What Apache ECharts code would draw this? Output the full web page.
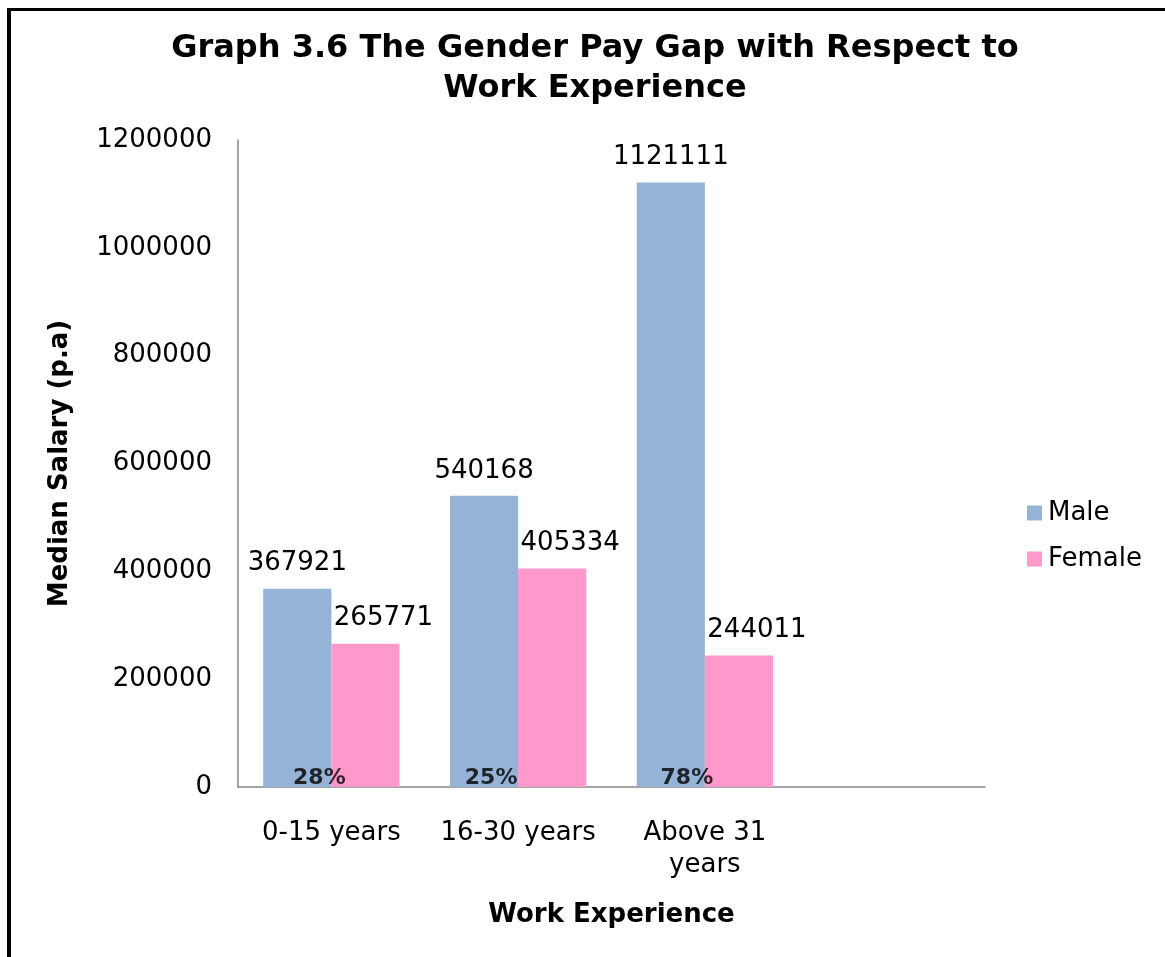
<!DOCTYPE html>
<html>
<head>
<meta charset="utf-8">
<script src="https://cdn.jsdelivr.net/npm/echarts@6/dist/echarts.min.js"></script>
<style>
  html, body { margin: 0; padding: 0; background: #fff; }
  #chart { width: 1165px; height: 957px; }
  #frame { position: absolute; left: 7px; top: 8px; width: 1200px; height: 1000px;
           border-left: 4px solid #000; border-top: 3px solid #000; pointer-events: none; }
</style>
</head>
<body>
<div id="chart"></div>
<div id="frame"></div>
<script>
var categories = ['0-15 years', '16-30 years', 'Above 31\nyears', ''];
var maleValues = [367921, 540168, 1121111, null];
var femaleValues = [265771, 405334, 244011, null];
var gapLabels = ['28%', '25%', '78%'];
var yTicks = [0, 200000, 400000, 600000, 800000, 1000000, 1200000];

// horizontal nudge of the gap labels, as placed in the original
var gapShift = [-12, -27, -18];

var myChart = echarts.init(document.getElementById('chart'));
var font = 'DejaVu Sans, Verdana, sans-serif';

var option = {
    animation: false,
    textStyle: { fontFamily: font },
    title: {
        text: 'Graph 3.6 The Gender Pay Gap with Respect to\nWork Experience',
        left: 590,
        textAlign: 'center',
        top: 24,
        textStyle: { fontFamily: font, fontSize: 32, fontWeight: 'bold', color: '#000', lineHeight: 40 }
    },
    legend: {
        orient: 'vertical',
        left: 1027,
        top: 500,
        padding: 0,
        itemWidth: 15,
        itemHeight: 15,
        itemGap: 20,
        icon: 'rect',
        data: ['Male', 'Female'],
        textStyle: { fontFamily: font, fontSize: 26, color: '#000', padding: [0, 0, 0, 1] }
    },
    grid: { left: 238, right: 180, top: 140, bottom: 170 },
    xAxis: {
        type: 'category',
        data: categories,
        name: 'Work Experience',
        nameLocation: 'middle',
        nameGap: 115,
        nameTextStyle: { fontFamily: font, fontSize: 26, fontWeight: 'bold', color: '#000' },
        axisLine: { lineStyle: { color: '#868686', width: 1.5 } },
        axisTick: { show: false },
        axisLabel: { fontFamily: font, fontSize: 26, color: '#000', margin: 30, lineHeight: 32, interval: 0 }
    },
    yAxis: {
        type: 'value',
        min: 0,
        max: 1200000,
        interval: 200000,
        name: 'Median Salary (p.a)',
        nameLocation: 'middle',
        nameGap: 165,
        nameTextStyle: { fontFamily: font, fontSize: 26, fontWeight: 'bold', color: '#000' },
        axisLine: { show: true, lineStyle: { color: '#868686', width: 1.5 } },
        axisTick: { show: false },
        splitLine: { show: false },
        axisLabel: {
            fontFamily: font, fontSize: 26, color: '#000', margin: 26,
            formatter: function (v) { return yTicks.indexOf(v) >= 0 ? String(v) : ''; }
        }
    },
    series: [
        {
            name: 'Male',
            type: 'bar',
            data: maleValues,
            barGap: '0%',
            barCategoryGap: '27%',
            itemStyle: { color: '#95B3D7' },
            label: { show: true, position: 'top', distance: 12, fontFamily: font, fontSize: 26, color: '#000' }
        },
        {
            name: 'Female',
            type: 'bar',
            data: femaleValues,
            itemStyle: { color: '#FF99CC' },
            label: { show: true, position: 'top', distance: 12, offset: [18, 0], fontFamily: font, fontSize: 26, color: '#000' }
        },
        {
            name: 'Gap',
            type: 'scatter',
            symbolSize: 0,
            z: 5,
            data: gapLabels.map(function (t, i) {
                return {
                    value: [i, 0],
                    label: {
                        show: true,
                        position: 'inside',
                        offset: [gapShift[i], -9],
                        formatter: t,
                        fontFamily: font,
                        fontSize: 22,
                        fontWeight: 'bold',
                        color: '#000'
                    }
                };
            })
        }
    ]
};

myChart.setOption(option);
window.addEventListener('resize', function () {
    myChart.resize();
});
</script>
</body>
</html>
